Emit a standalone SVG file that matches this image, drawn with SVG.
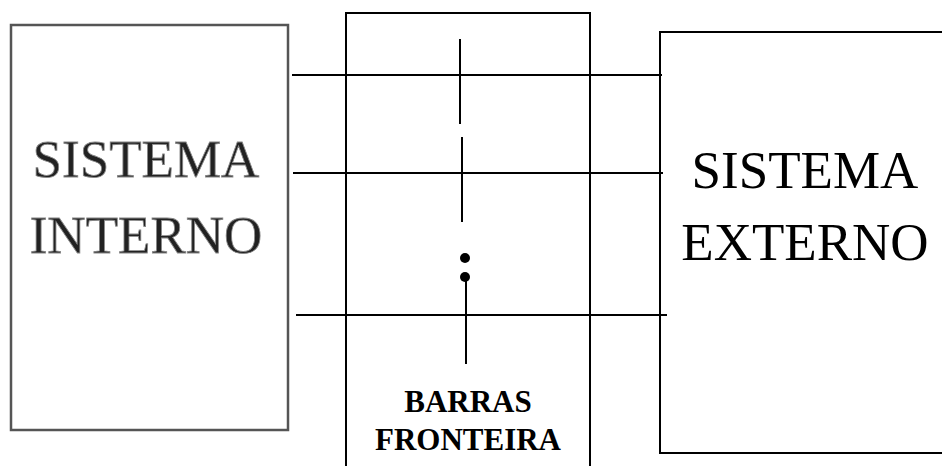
<svg xmlns="http://www.w3.org/2000/svg" width="942" height="466" viewBox="0 0 942 466">
<style>
.ln{stroke:#000;stroke-width:2;fill:none}
.box{stroke:#000;stroke-width:2;fill:none}
.gbox{stroke:#555;stroke-width:2.5;fill:none}
.big{font-size:53px;text-anchor:middle}
.emb{fill:#222;stroke:#888;stroke-width:0.8}
.lbl{font-size:31px;font-weight:bold;text-anchor:middle}
</style>
<rect width="942" height="466" fill="#fff"/>
<g id="interno">
<rect class="gbox" x="11" y="25" width="277" height="405"/>
<text class="big emb" font-family="Liberation Serif, Tinos, Times New Roman, DejaVu Serif, serif" x="146" y="177">SISTEMA</text>
<text class="big emb" font-family="Liberation Serif, Tinos, Times New Roman, DejaVu Serif, serif" x="146" y="253">INTERNO</text>
</g>
<g id="fronteira">
<path class="box" d="M346 466 V13 H590 V466"/>
<text class="lbl" font-family="Liberation Serif, Tinos, Times New Roman, DejaVu Serif, serif" x="468" y="412">BARRAS</text>
<text class="lbl" font-family="Liberation Serif, Tinos, Times New Roman, DejaVu Serif, serif" x="468" y="450">FRONTEIRA</text>
</g>
<g id="externo">
<path class="box" d="M942 32 H660 V453 H942"/>
<text class="big" font-family="Liberation Serif, Tinos, Times New Roman, DejaVu Serif, serif" x="805" y="188">SISTEMA</text>
<text class="big" font-family="Liberation Serif, Tinos, Times New Roman, DejaVu Serif, serif" x="805" y="260">EXTERNO</text>
</g>
<g id="connectors">
<line class="ln" x1="292" y1="75" x2="662" y2="75"/>
<line class="ln" x1="293" y1="173" x2="663" y2="173"/>
<line class="ln" x1="296" y1="315" x2="667" y2="315"/>
<line class="ln" x1="460" y1="39" x2="460" y2="124"/>
<line class="ln" x1="462" y1="137" x2="462" y2="222"/>
<circle cx="465" cy="258" r="5" fill="#000"/>
<circle cx="465" cy="277" r="5" fill="#000"/>
<line class="ln" x1="466" y1="277" x2="466" y2="364"/>
</g>
</svg>
